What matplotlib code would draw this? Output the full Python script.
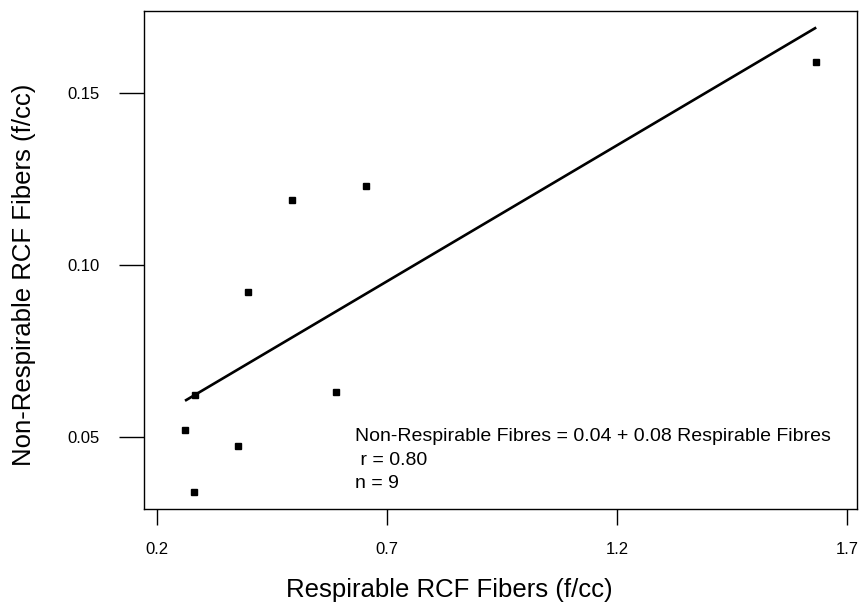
import numpy as np
import matplotlib
matplotlib.use("Agg")
import matplotlib.pyplot as plt

plt.rcParams['font.family'] = ['Liberation Sans', 'DejaVu Sans']

# valores (f/cc)
respirable = [0.280, 0.261, 0.283, 0.376, 0.398, 0.493, 0.589, 0.654, 1.633]
no_respirable = [0.034, 0.052, 0.0622, 0.0474, 0.0922, 0.119, 0.0631, 0.123, 0.159]

x_ticks = [0.2, 0.7, 1.2, 1.7]
y_ticks = [0.05, 0.10, 0.15]
x_tick_labels = ['0.2', '0.7', '1.2', '1.7']
y_tick_labels = ['0.05', '0.10', '0.15']

texto_ajuste = ["Non-Respirable Fibres = 0.04 + 0.08 Respirable Fibres",
                " r = 0.80",
                "n = 9"]

fig = plt.figure(figsize=(8.67, 6.02), dpi=100)
ax = fig.add_axes([0.166, 0.1545, 0.8225, 0.8272])

ax.plot(respirable, no_respirable, 's', color='black', markersize=4.5)

# recta de regresion sobre el rango de los datos
pend, inter = np.polyfit(respirable, no_respirable, 1)
xs = np.array([min(respirable), max(respirable)])
ax.plot(xs, inter + pend * xs, color='black', linewidth=1.9, solid_capstyle='butt')

ax.set_xlim(0.1717, 1.7217)
ax.set_ylim(0.0291, 0.1738)
ax.set_xticks(x_ticks)
ax.set_xticklabels(x_tick_labels)
ax.set_yticks(y_ticks)
ax.set_yticklabels(y_tick_labels)
ax.tick_params(axis='x', direction='out', length=11.5, width=1, pad=12, labelsize=12)
ax.tick_params(axis='y', direction='out', length=18, width=1, pad=14, labelsize=12)
for s in ax.spines.values():
    s.set_linewidth(1)

ax.set_xlabel('Respirable RCF Fibers (f/cc)', fontsize=18.5)
ax.set_ylabel('Non-Respirable RCF Fibers (f/cc)', fontsize=18.5)
ax.xaxis.set_label_coords(0.4285, -0.138)
ax.yaxis.set_label_coords(-0.152, 0.47)

# texto del ajuste, una linea cada vez
bases = [441, 465, 488]
for linea, yb in zip(texto_ajuste, bases):
    fig.text(355 / 867, 1 - yb / 602, linea, fontsize=14,
             va='baseline', ha='left')

fig.savefig('out.png', dpi=100)
